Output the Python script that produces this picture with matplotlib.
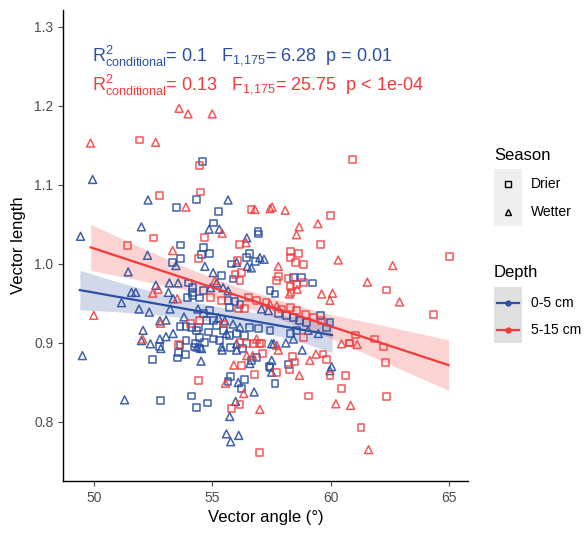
import matplotlib
matplotlib.use("Agg")
import matplotlib.pyplot as plt
from matplotlib.patches import Rectangle
import numpy as np

plt.rcParams['font.family'] = ['Liberation Sans', 'DejaVu Sans']
plt.rcParams['mathtext.fontset'] = 'custom'
plt.rcParams['mathtext.rm'] = 'Liberation Sans'
plt.rcParams['mathtext.it'] = 'Liberation Sans:italic'

blue = '#2A4FA3'
red = '#F23A3A'

# 0-5 cm, Drier (squares)
blue_sq_x = [54.58, 54.35, 53.48, 55.27, 55.05, 56.93, 53.67, 53.67, 53.33, 53.99, 54.17, 54.17, 53.95,
             53.64, 53.89, 54.32, 54.13, 53.89, 54.28, 53.64, 52.79, 54.25, 54.48, 53.56, 53.88, 53.52,
             52.49, 55.77, 56.28, 56.87, 56.65, 57.41, 55.77, 55.67, 56.38, 56.24, 52.82, 54.14, 54.80,
             54.35, 57.44, 58.22, 57.65, 59.56, 59.97, 59.83, 56.94, 54.62, 54.56, 54.90, 56.56, 56.46,
             56.83, 55.81, 55.40, 55.88, 58.43, 58.77, 59.24, 57.44, 57.65, 54.17, 54.62, 54.46, 55.67,
             55.96, 56.17, 55.74, 57.79, 58.14, 58.43, 58.70, 58.98, 58.56, 58.29, 57.44, 56.94, 56.59,
             56.38, 56.03, 54.90, 54.62, 54.76, 55.04, 54.41, 54.83, 55.19, 55.46, 55.04, 54.69, 55.32,
             55.74, 54.48]
blue_sq_y = [1.130, 1.082, 1.072, 1.066, 1.052, 1.041, 1.024, 1.007, 1.002, 0.976, 0.970, 0.964, 0.958,
             0.921, 0.921, 0.916, 0.920, 0.903, 0.899, 0.897, 0.896, 0.895, 0.893, 0.888, 0.885, 0.881,
             0.879, 0.894, 0.893, 0.882, 0.878, 0.870, 0.858, 0.851, 0.854, 0.842, 0.827, 0.833, 0.824,
             0.818, 0.869, 0.873, 0.849, 0.935, 0.926, 0.919, 1.038, 1.021, 1.012, 1.013, 1.013, 1.008,
             1.003, 1.000, 0.985, 0.981, 0.983, 0.983, 0.976, 0.966, 0.962, 0.960, 0.966, 0.957, 0.954,
             0.953, 0.949, 0.945, 0.937, 0.935, 0.932, 0.928, 0.926, 0.916, 0.912, 0.916, 0.918, 0.920,
             0.909, 0.912, 0.941, 0.937, 0.928, 0.928, 0.920, 0.914, 0.922, 0.916, 0.905, 0.901, 0.903,
             0.909, 0.907]

# 0-5 cm, Wetter (triangles)
blue_tr_x = [52.29, 55.67, 52.01, 54.87, 55.30, 49.95, 49.44, 52.27, 51.45, 53.47, 53.19, 53.56, 52.62,
             53.15, 51.59, 51.77, 53.35, 51.17, 51.91, 53.22, 54.40, 52.34, 53.05, 52.79, 53.81, 52.08,
             53.35, 53.05, 52.79, 52.39, 52.01, 49.52, 52.83, 54.55, 54.53, 55.42, 56.03, 56.59, 56.10,
             56.77, 51.30, 55.99, 55.74, 55.60, 56.12, 55.78, 57.51, 57.60, 58.11, 58.80, 57.51, 57.51,
             60.04, 59.97, 54.69, 56.46, 57.01, 57.19, 56.03, 56.48, 56.65, 55.04, 55.19, 54.93, 55.46,
             55.67, 57.08, 57.37, 59.05, 59.48, 58.43, 55.26, 55.53, 55.88, 56.17, 55.60, 56.03, 55.40,
             54.35]
blue_tr_y = [1.081, 1.081, 1.047, 1.044, 1.044, 1.107, 1.035, 1.011, 0.990, 0.998, 0.976, 0.976, 0.973,
             0.964, 0.964, 0.964, 0.956, 0.951, 0.943, 0.943, 0.943, 0.939, 0.929, 0.928, 0.933, 0.916,
             0.912, 0.908, 0.905, 0.899, 0.903, 0.884, 0.893, 0.893, 0.877, 0.891, 0.891, 0.874, 0.850,
             0.838, 0.828, 0.826, 0.807, 0.785, 0.783, 0.775, 0.899, 0.899, 0.900, 0.891, 0.878, 0.863,
             0.870, 0.865, 0.997, 1.033, 1.008, 1.006, 1.002, 0.997, 0.995, 0.989, 0.976, 0.970, 0.970,
             0.966, 0.943, 0.941, 0.916, 0.912, 0.905, 0.932, 0.928, 0.924, 0.920, 0.912, 0.899, 0.895,
             0.895]

# 5-15 cm, Drier (squares)
red_sq_x = [51.94, 54.46, 52.76, 54.51, 56.64, 60.93, 60.01, 52.51, 51.41, 54.41, 54.09, 53.58, 56.17,
            56.46, 57.01, 57.12, 56.24, 56.80, 54.41, 56.17, 55.81, 56.98, 59.68, 59.83, 58.38, 58.47,
            57.73, 58.26, 59.97, 60.62, 62.23, 62.31, 60.80, 60.47, 59.05, 62.37, 61.28, 59.57, 65.02,
            62.37, 64.34, 61.04, 61.85, 60.78, 54.69, 56.14, 58.29, 58.63, 58.32, 56.08, 58.50, 58.84,
            56.24, 55.96, 56.17, 57.79, 57.70, 58.22, 58.84, 58.56, 58.29, 58.33, 54.93, 55.40, 56.52,
            56.87, 57.27, 56.35, 56.10, 57.93, 58.29, 58.56, 58.95, 59.27, 59.62, 58.84, 55.46, 54.48,
            57.08, 56.73]
red_sq_y = [1.157, 1.125, 1.087, 1.091, 1.069, 1.132, 1.061, 1.033, 1.023, 1.007, 0.925, 0.898, 0.901,
            0.899, 0.899, 0.887, 0.871, 0.860, 0.853, 0.822, 0.817, 0.761, 0.886, 0.879, 0.883, 0.876,
            0.863, 0.866, 0.859, 0.859, 0.895, 0.875, 0.900, 0.842, 0.833, 0.832, 0.793, 1.025, 1.009,
            0.967, 0.936, 0.910, 0.905, 0.900, 1.034, 1.025, 1.016, 1.013, 1.008, 1.004, 1.002, 0.999,
            0.989, 0.987, 0.979, 0.984, 0.979, 0.982, 0.977, 0.974, 0.971, 0.964, 0.958, 0.954, 0.958,
            0.954, 0.951, 0.944, 0.943, 0.943, 0.945, 0.941, 0.936, 0.932, 0.928, 0.907, 0.924, 0.928,
            0.899, 0.899]

# 5-15 cm, Wetter (triangles)
red_tr_x = [53.60, 53.98, 55.00, 49.86, 52.61, 53.89, 56.80, 57.44, 57.53, 58.08, 58.67, 59.46, 53.33,
            52.72, 52.49, 53.52, 50.00, 52.82, 52.06, 56.46, 56.71, 55.91, 55.56, 56.33, 57.01, 57.79,
            59.38, 59.12, 58.68, 60.46, 61.12, 60.22, 60.84, 61.60, 60.32, 62.62, 61.55, 62.91, 59.62,
            60.08, 59.97, 55.42, 58.56, 56.43, 57.79, 55.11, 58.59, 58.26, 57.44, 57.73, 56.87, 57.73]
red_tr_y = [1.197, 1.190, 1.190, 1.153, 1.154, 1.072, 1.069, 1.070, 1.072, 1.068, 1.047, 1.051, 1.017,
            0.968, 0.963, 0.956, 0.935, 0.925, 0.905, 0.884, 0.884, 0.872, 0.849, 0.836, 0.816, 0.891,
            0.886, 0.878, 0.859, 0.899, 0.898, 0.823, 0.821, 0.765, 1.005, 0.998, 0.977, 0.952, 0.962,
            0.963, 0.954, 1.039, 1.037, 1.027, 0.997, 0.979, 0.968, 0.962, 0.949, 0.947, 0.905, 0.897]

# model fits with confidence bands
blue_fit_x = [49.41, 51.0, 53.0, 55.0, 57.0, 59.0, 60.06]
blue_fit_y = [0.967, 0.9585, 0.9478, 0.9371, 0.9264, 0.9157, 0.910]
blue_fit_se = [0.025, 0.019, 0.013, 0.010, 0.011, 0.017, 0.022]

red_fit_x = [49.87, 52.0, 54.0, 56.0, 58.0, 60.0, 62.0, 64.98]
red_fit_y = [1.021, 1.000, 0.9803, 0.9606, 0.9408, 0.9211, 0.9014, 0.872]
red_fit_se = [0.029, 0.021, 0.014, 0.011, 0.012, 0.015, 0.022, 0.032]

fig = plt.figure(figsize=(5.87, 5.34), dpi=100)
ax = fig.add_axes([63/587, 53/534, 405/587, 471/534])

for fx, fy, fs, c in [(red_fit_x, red_fit_y, red_fit_se, red), (blue_fit_x, blue_fit_y, blue_fit_se, blue)]:
    fy = np.array(fy)
    fs = np.array(fs)
    ax.fill_between(fx, fy - fs, fy + fs, color=c, alpha=0.22, lw=0, zorder=1)

ax.scatter(blue_sq_x, blue_sq_y, marker='s', s=24, facecolors='none', edgecolors=blue, linewidths=1.1, alpha=0.9, zorder=2)
ax.scatter(blue_tr_x, blue_tr_y, marker='^', s=32, facecolors='none', edgecolors=blue, linewidths=1.1, alpha=0.9, zorder=2)
ax.scatter(red_sq_x, red_sq_y, marker='s', s=24, facecolors='none', edgecolors=red, linewidths=1.1, alpha=0.85, zorder=2)
ax.scatter(red_tr_x, red_tr_y, marker='^', s=32, facecolors='none', edgecolors=red, linewidths=1.1, alpha=0.85, zorder=2)

ax.plot(blue_fit_x, blue_fit_y, color=blue, lw=1.6, zorder=3)
ax.plot(red_fit_x, red_fit_y, color=red, lw=1.6, zorder=3)

ax.set_xlim(48.7, 65.8)
ax.set_ylim(0.7253, 1.3215)
ax.set_xticks([50, 55, 60, 65])
ax.set_yticks([0.8, 0.9, 1.0, 1.1, 1.2, 1.3])
ax.set_yticklabels(['0.8', '0.9', '1.0', '1.1', '1.2', '1.3'])
ax.tick_params(labelsize=10, colors='#4D4D4D', length=3.5, width=0.8)
for s in ['top', 'right']:
    ax.spines[s].set_visible(False)
for s in ['left', 'bottom']:
    ax.spines[s].set_linewidth(1.0)
    ax.spines[s].set_color('black')
ax.set_xlabel('Vector angle (°)', fontsize=12, labelpad=4)
ax.set_ylabel('Vector length', fontsize=12, labelpad=6)

ax.text(49.93, 1.2566, r'$\mathrm{R^{2}_{conditional}}$= 0.1   $\mathrm{F_{1,\!175}}$= 6.28  p = 0.01',
        color=blue, fontsize=13, va='baseline', ha='left')
ax.text(49.93, 1.2205, r'$\mathrm{R^{2}_{conditional}}$= 0.13   $\mathrm{F_{1,\!175}}$= 25.75  p < 1e-04',
        color=red, fontsize=13, va='baseline', ha='left')

# legend drawn by hand in pixel space
lax = fig.add_axes([0, 0, 1, 1])
lax.set_xlim(0, 587)
lax.set_ylim(534, 0)
lax.axis('off')
lax.text(494, 156, 'Season', fontsize=12, va='center', ha='left')
lax.add_patch(Rectangle((494, 169), 28, 57, color='#EFEFEF', lw=0))
lax.plot([508], [184], marker='s', ms=4.5, mfc='none', mec='black', mew=1.0)
lax.plot([508], [212], marker='^', ms=5, mfc='none', mec='black', mew=1.0)
lax.text(531, 184, 'Drier', fontsize=10, va='center')
lax.text(531, 212, 'Wetter', fontsize=10, va='center')

lax.text(494, 272, 'Depth', fontsize=12, va='center', ha='left')
lax.add_patch(Rectangle((494, 287), 28, 56, color='#E0E0E0', lw=0))
lax.plot([497, 519], [303, 303], color=blue, lw=1.6)
lax.plot([508], [303], marker='o', ms=3.5, color=blue)
lax.plot([497, 519], [330, 330], color=red, lw=1.6)
lax.plot([508], [330], marker='o', ms=3.5, color=red)
lax.text(531, 303, '0-5 cm', fontsize=10, va='center')
lax.text(531, 330, '5-15 cm', fontsize=10, va='center')

fig.savefig('out.png', dpi=100)
